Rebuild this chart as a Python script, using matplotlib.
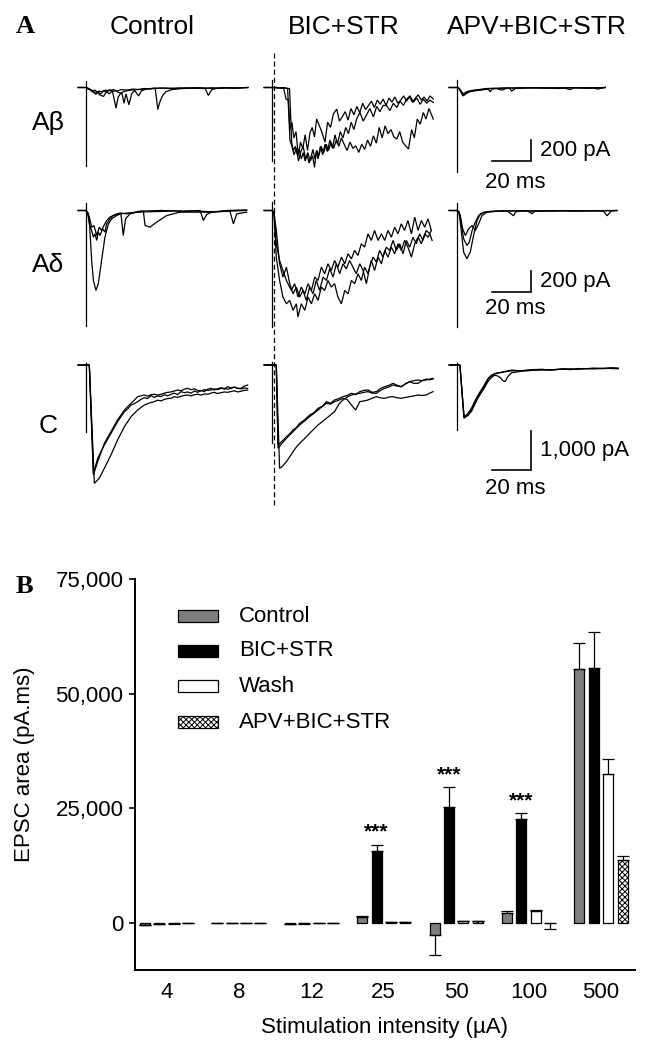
import matplotlib
matplotlib.use('Agg')
import matplotlib.pyplot as plt
import numpy as np
from matplotlib.lines import Line2D
from matplotlib.patches import Rectangle

plt.rcParams['font.family'] = ['Liberation Sans', 'DejaVu Sans']
plt.rcParams['hatch.linewidth'] = 0.7

# ---------------- Panel A data (time in ms, current in pA) ----------------
# A-beta, Control
ab_ctl_t1 = [-4, 0, 1, 2, 3.5, 5, 6.5, 8, 10, 12, 14, 16, 18, 21, 24, 27, 30, 33, 35.5, 36.8, 38, 39.5, 41, 44, 48, 52, 55, 60, 64, 68, 72, 76, 80, 83]
ab_ctl_i1 = [0, 0, -10, -15, -30, -65, -35, -40, -25, -30, -20, -35, -20, -25, -15, -20, -10, -12, -5, -210, -130, -70, -40, -20, -12, -8, -5, -10, -3, -8, -3, -6, -2, 0]
ab_ctl_t2 = [-4, 0, 1, 2.5, 4, 5.5, 7, 9, 10.5, 12, 13.5, 15.4, 16.5, 18, 20, 23, 26, 29, 33, 38, 43, 48, 53, 58, 61, 62.7, 64.5, 67, 72, 77, 83]
ab_ctl_i2 = [0, 0, -15, -25, -50, -40, -70, -85, -40, -60, -30, -195, -90, -50, -35, -25, -20, -15, -10, -5, -10, -5, -8, -3, -5, -75, -20, -8, -3, -6, 0]
ab_ctl_t3 = [-4, 0, 1, 2, 3, 4.5, 6, 7.5, 9, 10.5, 12, 13.5, 15, 17, 18.5, 19.5, 20.5, 22, 23.5, 25, 27, 28.5, 31, 35, 40, 46, 52, 58, 64, 70, 76, 83]
ab_ctl_i3 = [0, 0, -5, -20, -40, -25, -45, -60, -30, -45, -20, -40, -30, -50, -60, -150, -60, -165, -55, -30, -80, -30, -15, -10, -5, -8, -3, -5, -8, -2, -5, 0]
ab_ctl_art = [62, -745]

# A-beta, BIC+STR
ab_bic_t1 = [-4, 0, 2, 4, 6, 7.2, 8.4, 9.2, 10.2, 11.2, 12.3, 13.5, 14.6, 15.8, 17, 18.2, 19.5, 20.6, 21.8, 22.9, 24.2, 25.5, 27.2, 28.5, 30, 31.5, 33.2, 34.6, 36, 37.5, 39, 40.5, 42, 43.5, 45, 46.5, 48, 49.5, 51, 52.5, 54, 55.5, 57, 58.5, 60, 61.5, 63, 64.5, 66, 67.5, 69, 70.5, 72, 73.5, 75, 76.5, 78, 79.5, 81, 82.7]
ab_bic_i1 = [0, 0, 0, -5, -10, -111, -120, -400, -330, -480, -420, -650, -520, -580, -450, -600, -430, -380, -470, -300, -360, -420, -520, -330, -380, -250, -206, -320, -280, -230, -310, -200, -260, -180, -240, -150, -210, -170, -130, -190, -120, -160, -110, -170, -100, -140, -90, -150, -120, -80, -130, -90, -140, -100, -70, -120, -90, -130, -80, -110]
ab_bic_t2 = [-4, 0, 3, 6, 8, 9.2, 10.2, 11.3, 12.5, 13.6, 14.8, 16, 17.2, 18.4, 19.6, 20.8, 21.8, 22.8, 23.6, 24.8, 26, 27.2, 28.4, 29.7, 31, 32.3, 33.6, 35, 36.4, 37.8, 39.2, 40.6, 42, 43.4, 45.1, 46.8, 48.5, 50.2, 52, 53.7, 55.4, 57, 58.8, 60.5, 62.2, 64, 65.7, 67.4, 69.1, 70.8, 72.5, 74.2, 76, 77.6, 79.3, 81, 82.7]
ab_bic_i2 = [0, 0, -5, 0, -10, -500, -560, -640, -580, -700, -610, -560, -680, -620, -700, -650, -761, -600, -680, -560, -640, -540, -610, -500, -580, -450, -540, -420, -480, -380, -440, -330, -400, -300, -238, -320, -260, -200, -280, -180, -230, -170, -174, -220, -150, -190, -130, -170, -110, -79, -140, -100, -160, -110, -150, -120, -143]
ab_bic_t3 = [-4, 0, 3, 6, 9, 10.1, 11, 12, 13, 14, 15, 16, 17, 18, 19, 20, 21, 22, 23, 24, 25.2, 26.5, 27.8, 29, 30.3, 31.6, 33, 34.3, 35.6, 37, 38.5, 40, 41.5, 43, 44.5, 46, 47.5, 49, 50.5, 52, 53.5, 55, 56.5, 58, 59.5, 61, 62.5, 64, 65.5, 67, 68.5, 70, 71.6, 73, 74.5, 76, 77.6, 79, 80.5, 82.7]
ab_bic_i3 = [0, 0, 0, -5, -10, -523, -600, -560, -640, -590, -680, -620, -700, -640, -720, -660, -590, -680, -600, -650, -560, -620, -540, -600, -520, -580, -500, -560, -480, -540, -600, -520, -580, -555, -618, -540, -590, -500, -560, -460, -530, -380, -480, -365, -440, -400, -470, -491, -420, -520, -555, -586, -400, -480, -300, -350, -238, -300, -200, -301]
ab_bic_art = [71, -700]

# A-beta, APV+BIC+STR
ab_apv_t1 = [-4, 0, 1, 2, 3, 4, 5, 6, 8, 10, 12, 14, 16, 17, 18, 20, 24, 27, 28, 30, 35, 40, 45, 50, 55, 58, 60, 65, 70, 72, 76]
ab_apv_i1 = [0, 0, -10, -40, -80, -70, -50, -40, -35, -30, -25, -20, -15, -40, -15, -10, -5, -8, -35, -8, -5, -3, -5, -2, -5, -20, -3, -5, -2, -15, 0]
ab_apv_t2 = [-4, 0, 1, 2, 3, 5, 7, 9, 11, 13, 15, 20, 25, 30, 40, 50, 60, 70, 76]
ab_apv_i2 = [0, 0, -5, -30, -60, -40, -30, -25, -20, -15, -10, -8, -5, -4, -3, -5, -2, -3, 0]
ab_apv_t3 = [-4, 0, 1.5, 3, 4.5, 6, 8, 10, 13, 16, 20, 23, 26, 30, 38, 45, 52, 56, 62, 68, 76]
ab_apv_i3 = [0, 0, -20, -70, -60, -45, -30, -25, -20, -10, -8, -25, -5, -6, -2, -4, -10, -2, -3, -8, 0]
ab_apv_art = [70, -805]

# A-delta, Control
ad_ctl_t1 = [-4, 0, 1, 1.7, 2.9, 3.8, 5.1, 6.3, 8, 9.7, 11.5, 13.2, 15.7, 18, 20.9, 24, 28, 32, 36, 40, 45, 50, 55, 60, 65, 70, 75, 82.4]
ad_ctl_i1 = [0, 0, -30, -95, -475, -666, -761, -697, -475, -254, -127, -79, -48, -30, -25, -20, -15, -12, -10, -8, -5, -10, -5, -8, -12, -8, -5, 0]
ad_ctl_t2 = [-4, 0, 1, 1.7, 2.9, 3.8, 4.6, 5.5, 6.3, 7.2, 8.5, 9.7, 10.6, 12.3, 14.0, 16.6, 17.9, 19.1, 20.3, 22.6, 26.0, 29.4, 30.3, 32.8, 36.2, 41.4, 48.2, 63.6, 73.8, 75.6, 77.3, 82.4]
ad_ctl_i2 = [0, 0, -40, -127, -190, -254, -222, -285, -206, -238, -174, -206, -127, -79, -48, -32, -25, -238, -79, -32, -16, -6, -143, -159, -111, -48, -16, -16, -6, -127, -32, -16]
ad_ctl_t3 = [-4, 0, 1, 1.7, 2.9, 4.1, 5.5, 6.8, 8.0, 9.2, 10.6, 12.3, 14.9, 17.4, 20.9, 27.7, 37.9, 50, 58.5, 60.2, 61.9, 64.4, 72.1, 82.4]
ad_ctl_i3 = [0, 0, -20, -63, -159, -143, -238, -159, -190, -143, -95, -63, -38, -25, -32, -6, 0, -5, 0, -95, -38, -16, 0, 6]
ad_ctl_art = [72, -1100]

# A-delta, BIC+STR
ad_bic_t1 = [-4, 0, 1, 2.2, 3.9, 5.6, 7.4, 9.9, 11.6, 13.3, 15.0, 16.8, 18.5, 20.2, 21.9, 23.6, 25.3, 27.0, 28.7, 30.4, 32.1, 33.8, 35.6, 37.3, 39.0, 40.7, 42.4, 44.1, 45.8, 47.5, 49.2, 50.9, 52.6, 54.4, 56.1, 57.8, 59.5, 61.2, 62.9, 64.6, 66.3, 68.0, 69.7, 71.5, 73.2, 74.9, 76.6, 78.3, 80.0, 81.7]
ad_bic_i1 = [0, 0, -20, -317, -476, -571, -666, -761, -697, -824, -729, -793, -697, -761, -634, -666, -539, -602, -507, -571, -476, -539, -444, -507, -412, -460, -380, -428, -317, -349, -222, -285, -190, -285, -222, -285, -190, -254, -159, -222, -127, -190, -95, -222, -63, -190, -95, -159, -79, -190]
ad_bic_t2 = [-4, 0, 1, 2.2, 3.9, 5.6, 7.4, 9.1, 10.8, 12.5, 14.2, 15.9, 17.6, 19.3, 21.0, 22.7, 24.4, 26.2, 27.9, 29.6, 31.3, 33.0, 34.7, 36.4, 38.1, 39.8, 41.5, 43.2, 45.0, 46.7, 48.4, 50.1, 51.8, 53.5, 55.2, 56.9, 58.6, 60.3, 62.1, 63.8, 65.5, 67.2, 68.9, 70.6, 72.3, 74.0, 75.7, 77.4, 79.1, 80.9, 82.1]
ad_bic_i2 = [0, 0, -20, -190, -507, -634, -539, -697, -793, -729, -824, -761, -856, -729, -793, -666, -761, -634, -666, -555, -634, -507, -602, -507, -555, -476, -539, -602, -507, -571, -697, -539, -444, -491, -380, -444, -349, -380, -285, -380, -317, -412, -285, -349, -254, -317, -222, -285, -190, -222, -285]
ad_bic_t3 = [-4, 0, 1, 2.2, 3.9, 5.6, 7.4, 9.1, 10.8, 12.5, 13.3, 15.0, 16.8, 18.5, 20.2, 21.9, 23.6, 25.3, 27.0, 28.7, 30.4, 32.1, 33.8, 35.6, 37.3, 39.0, 40.7, 42.4, 44.1, 45.8, 47.5, 49.2, 50.9, 52.6, 54.4, 56.1, 57.8, 59.5, 61.2, 62.9, 64.6, 66.3, 68.0, 69.7, 71.5, 73.2, 74.9, 76.6, 78.3, 80.0, 81.7]
ad_bic_i3 = [0, 0, -20, -444, -666, -824, -888, -856, -951, -888, -1014, -888, -951, -824, -888, -793, -856, -729, -761, -666, -729, -697, -824, -888, -761, -793, -666, -697, -602, -666, -539, -602, -476, -571, -444, -507, -380, -444, -349, -412, -317, -380, -285, -349, -444, -317, -254, -317, -222, -254, -190]
ad_bic_art = [80, -1110]

# A-delta, APV+BIC+STR
ad_apv_t1 = [-4, 0, 1, 1.7, 3.4, 5.1, 6.8, 8.5, 10.3, 12.0, 14.5, 18, 22, 26, 29, 30, 32, 36, 38.5, 40, 45, 50, 55, 60, 65, 70, 75, 77, 79, 82]
ad_apv_i1 = [0, 0, -20, -111, -396, -460, -396, -238, -95, -32, -16, -10, -5, -8, -50, -15, -5, -3, -30, -5, -3, -5, -2, -5, -3, -2, -5, -50, -5, 0]
ad_apv_t2 = [-4, 0, 1, 1.7, 3.4, 5.1, 6.3, 8.0, 9.4, 11.1, 13.7, 17, 22, 30, 40, 50, 60, 70, 82]
ad_apv_i2 = [0, 0, -15, -79, -269, -333, -301, -174, -111, -48, -16, -8, -5, -3, -5, -2, -4, -2, 0]
ad_apv_t3 = [-4, 0, 1, 1.7, 2.9, 4.3, 6.0, 7.7, 9.4, 11.1, 12.8, 15.4, 20, 25, 33, 42, 52, 62, 72, 82]
ad_apv_i3 = [0, 0, -10, -48, -174, -238, -174, -143, -190, -127, -48, -16, -8, -5, -3, -6, -2, -4, -3, 0]
ad_apv_art = [70, -1109]

# C fibres, Control
c_ctl_t1 = [-4, 0, 1.7, 3.8, 6.0, 9.4, 12.8, 16.2, 19.7, 21.5, 23.1, 24.8, 26.5, 28.2, 29.9, 31.6, 33.3, 35, 36.8, 38.5, 40.2, 41.9, 43.6, 45.3, 47, 48.7, 50.4, 52.1, 53.9, 55.6, 57.3, 59, 60.7, 62.4, 64.1, 65.8, 67.5, 69.2, 70.9, 72.6, 74.3, 76, 77.8, 79.5, 81.2, 82.9]
c_ctl_i1 = [0, 0, 0, -2772, -2390, -2048, -1750, -1450, -1194, -1120, -1024, -990, -938, -880, -836, -860, -785, -830, -790, -810, -760, -790, -750, -720, -760, -682, -710, -690, -720, -665, -700, -650, -680, -620, -597, -640, -610, -580, -620, -555, -590, -560, -600, -597, -540, -512]
c_ctl_t2 = [-4, 0, 1.7, 3.8, 6.0, 9.4, 12.8, 16.2, 19.7, 21.5, 23.1, 24.8, 26.5, 28.2, 29.9, 31.6, 33.3, 35, 36.8, 38.5, 40.2, 41.9, 43.6, 45.3, 47, 48.7, 50.4, 52.1, 53.9, 55.6, 57.3, 59, 60.7, 62.4, 64.1, 65.8, 67.5, 69.2, 70.9, 72.6, 74.3, 76, 77.8, 79.5, 81.2, 82.9]
c_ctl_i2 = [0, 0, 0, -2815, -2474, -2005, -1706, -1407, -1152, -1060, -981, -900, -810, -790, -768, -800, -760, -750, -770, -750, -720, -700, -690, -665, -640, -660, -620, -597, -630, -610, -650, -665, -630, -650, -640, -610, -630, -600, -597, -620, -600, -570, -597, -610, -590, -597]
c_ctl_t3 = [-4, 0, 1.7, 4.3, 6.8, 9.4, 12.8, 16.2, 19.7, 23.1, 26.5, 29.9, 33.3, 35, 36.8, 38.5, 40.2, 41.9, 43.6, 45.3, 47, 48.7, 50.4, 52.1, 53.9, 55.6, 57.3, 59, 60.7, 62.4, 64.1, 65.8, 67.5, 69.2, 70.9, 72.6, 74.3, 76, 77.8, 79.5, 81.2, 82.9]
c_ctl_i3 = [0, 0, 0, -3028, -2900, -2645, -2303, -1920, -1578, -1322, -1152, -1024, -960, -938, -900, -920, -879, -860, -850, -810, -830, -800, -780, -768, -790, -760, -750, -770, -740, -750, -720, -700, -730, -710, -690, -700, -680, -660, -690, -670, -650, -640]
c_ctl_art = [40, -1715]

# C fibres, BIC+STR
c_bic_t1 = [-4, 0, 2.2, 3.1, 5.2, 7.4, 9.1, 10.8, 12.5, 14.2, 16.8, 19.3, 21.5, 23.6, 25.8, 27.9, 30, 32.1, 34.3, 36.4, 38.5, 40.7, 42.9, 45.0, 47.1, 49.2, 51.4, 53.5, 55.7, 57.8, 60, 62.1, 64.2, 66.3, 68.5, 70.6, 72.8, 74.9, 77, 79.1, 80.9, 82.6]
c_bic_i1 = [0, 0, 0, -2047, -1950, -1834, -1760, -1663, -1600, -1493, -1400, -1280, -1220, -1109, -1060, -938, -980, -896, -860, -810, -780, -725, -760, -682, -650, -640, -700, -682, -600, -555, -520, -469, -520, -555, -480, -427, -470, -469, -400, -358, -380, -358]
c_bic_t2 = [-4, 0, 2.2, 3.1, 5.2, 7.4, 9.1, 10.8, 12.5, 14.2, 16.8, 19.3, 21.5, 23.6, 25.8, 27.9, 30, 32.1, 34.3, 36.4, 38.5, 40.7, 42.9, 45.0, 47.1, 49.2, 51.4, 53.5, 55.7, 57.8, 60, 62.1, 64.2, 66.3, 68.5, 70.6, 72.8, 74.9, 77, 79.1, 80.9, 82.6]
c_bic_i2 = [0, 0, 0, -2133, -2000, -1877, -1790, -1706, -1620, -1535, -1430, -1322, -1240, -1152, -1060, -981, -1000, -938, -900, -853, -880, -1024, -1152, -938, -920, -896, -850, -810, -840, -853, -820, -810, -840, -853, -830, -810, -790, -768, -780, -768, -720, -682]
c_bic_t3 = [-4, 0, 2.2, 3.9, 5.2, 7.4, 9.1, 10.8, 12.5, 14.2, 16.8, 19.3, 21.5, 23.6, 25.8, 27.9, 30, 32.1, 34.3, 36.4, 38.5, 40.7, 42.9, 45.0, 47.1, 49.2, 51.4, 53.5, 55.7, 57.8, 60, 62.1, 64.2, 66.3, 68.5, 70.6, 72.8, 74.9, 77, 79.1, 80.9, 82.6]
c_bic_i3 = [0, 0, 0, -2645, -2600, -2474, -2350, -2218, -2100, -2005, -1880, -1749, -1640, -1535, -1450, -1365, -1280, -1194, -1000, -896, -820, -768, -740, -725, -700, -682, -720, -725, -650, -597, -560, -512, -540, -555, -480, -427, -400, -384, -400, -384, -360, -341]
c_bic_art = [85, -2000]

# C fibres, APV+BIC+STR
c_apv_t1 = [-4, 0, 1.5, 3.6, 5.5, 7.5, 9, 10.7, 12.3, 13.9, 15, 16.2, 17.7, 19.3, 20.8, 22.4, 25, 28, 33, 38, 43.6, 48, 54.3, 58, 62, 65, 70, 75.6, 79, 82.7]
c_apv_i1 = [0, 0, 0, -1365, -1280, -1152, -980, -810, -680, -554, -450, -341, -280, -230, -210, -196, -170, -150, -145, -130, -128, -120, -111, -100, -110, -94, -90, -85, -80, -90]
c_apv_t2 = [-4, 0, 1.5, 3.6, 5.5, 7.5, 9, 10.7, 12.3, 13.9, 15, 16.2, 17.7, 19.3, 20.8, 22.4, 25, 28, 33, 38, 43.6, 48, 54.3, 58, 62, 65, 70, 75.6, 79, 82.7]
c_apv_i2 = [0, 0, 0, -1330, -1250, -1100, -940, -780, -650, -520, -420, -330, -260, -220, -200, -190, -160, -130, -150, -120, -110, -130, -100, -120, -90, -100, -80, -95, -70, -80]
c_apv_t3 = [-4, 0, 1.5, 3.6, 5.5, 7.5, 9, 10.7, 12.3, 13.9, 15, 16.2, 17.7, 19.3, 20.8, 22.4, 23.5, 24.7, 26, 28, 33, 38, 43.6, 48, 54.3, 60, 65, 70, 75.6, 82.7]
c_apv_i3 = [0, 0, 0, -1340, -1300, -1180, -1020, -850, -720, -600, -500, -400, -320, -260, -280, -330, -400, -426, -300, -200, -160, -140, -120, -130, -100, -110, -90, -100, -85, -95]
c_apv_art = [40, -1664]

conditions = ['Control', 'BIC+STR', 'APV+BIC+STR']
fibre_rows = ['Aβ', 'Aδ', 'C']
scale_ms = 20
scale_pa = [200, 200, 1000]
scale_pa_labels = ['200 pA', '200 pA', '1,000 pA']

# ---------------- Panel B data ----------------
groups = ['4', '8', '12', '25', '50', '100', '500']
control = [-360, 50, -150, 1240, -2690, 2180, 55400]
control_sem = [150, 50, 100, 360, 4210, 365, 5670]
bic = [-150, 50, -100, 15630, 25230, 22680, 55620]
bic_sem = [100, 50, 100, 1450, 4360, 1310, 7850]
wash = [-100, 50, 0, 150, 360, 2545, 32570]
wash_sem = [50, 30, 30, 100, 150, 355, 3270]
apv = [-50, 50, 0, 220, 360, -100, 13670]
apv_sem = [50, 30, 30, 100, 140, 1200, 870]
series_names = ['Control', 'BIC+STR', 'Wash', 'APV+BIC+STR']
sig_groups = [3, 4, 5]
sig_label = '***'

# ---------------- Figure ----------------
W, H = 655, 1050
fig = plt.figure(figsize=(W / 100, H / 100), dpi=100)


def fx(px):
    return px / W


def fy(py):
    return 1 - py / H


# layout (pixels)
col_x0 = [86, 272, 457]
row_y0 = [87.5, 210.5, 365]
ms_px = 1.95
pa_per_px = [9.52, 9.52, 25.6]
LW = 0.9

traces = {
    (0, 0): ([(ab_ctl_t1, ab_ctl_i1), (ab_ctl_t2, ab_ctl_i2), (ab_ctl_t3, ab_ctl_i3)], ab_ctl_art),
    (0, 1): ([(ab_bic_t1, ab_bic_i1), (ab_bic_t2, ab_bic_i2), (ab_bic_t3, ab_bic_i3)], ab_bic_art),
    (0, 2): ([(ab_apv_t1, ab_apv_i1), (ab_apv_t2, ab_apv_i2), (ab_apv_t3, ab_apv_i3)], ab_apv_art),
    (1, 0): ([(ad_ctl_t1, ad_ctl_i1), (ad_ctl_t2, ad_ctl_i2), (ad_ctl_t3, ad_ctl_i3)], ad_ctl_art),
    (1, 1): ([(ad_bic_t1, ad_bic_i1), (ad_bic_t2, ad_bic_i2), (ad_bic_t3, ad_bic_i3)], ad_bic_art),
    (1, 2): ([(ad_apv_t1, ad_apv_i1), (ad_apv_t2, ad_apv_i2), (ad_apv_t3, ad_apv_i3)], ad_apv_art),
    (2, 0): ([(c_ctl_t1, c_ctl_i1), (c_ctl_t2, c_ctl_i2), (c_ctl_t3, c_ctl_i3)], c_ctl_art),
    (2, 1): ([(c_bic_t1, c_bic_i1), (c_bic_t2, c_bic_i2), (c_bic_t3, c_bic_i3)], c_bic_art),
    (2, 2): ([(c_apv_t1, c_apv_i1), (c_apv_t2, c_apv_i2), (c_apv_t3, c_apv_i3)], c_apv_art),
}

trace_axes = {}
for r in range(3):
    for c in range(3):
        lpx, rpx = col_x0[c] - 12, col_x0[c] + 175
        tpx, bpx = row_y0[r] - 30, row_y0[r] + 125
        ax = fig.add_axes([fx(lpx), fy(bpx), (rpx - lpx) / W, (bpx - tpx) / H])
        ax.set_xlim(-12 / ms_px, 175 / ms_px)
        ax.set_ylim(-125 * pa_per_px[r], 30 * pa_per_px[r])
        ax.axis('off')
        sweeps, art = traces[(r, c)]
        for t, i in sweeps:
            ax.plot(t, i, color='black', lw=LW, solid_joinstyle='miter')
        ax.plot([0, 0], art, color='black', lw=LW)
        trace_axes[(r, c)] = ax

# scale bars (drawn in the APV column axes)
corner_px_x = 531
corner_px_y = [161, 292, 470]
ms_label_dy = [21, 17, 18]
for r in range(3):
    ax = trace_axes[(r, 2)]
    tc = (corner_px_x - col_x0[2]) / ms_px
    ic = -(corner_px_y[r] - row_y0[r]) * pa_per_px[r]
    ax.plot([tc - scale_ms, tc, tc], [ic, ic, ic + scale_pa[r]], color='black', lw=1.2,
            clip_on=False, solid_joinstyle='miter')
    ax.text(tc + 9 / ms_px, ic + scale_pa[r] / 2, scale_pa_labels[r], ha='left', va='center',
            fontsize=16, clip_on=False)
    ax.text(tc - scale_ms - 7 / ms_px, ic - ms_label_dy[r] * pa_per_px[r], f'{scale_ms} ms',
            ha='left', va='center', fontsize=16, clip_on=False)

# dashed alignment line
fig.add_artist(Line2D([fx(274), fx(274)], [fy(53), fy(508)], color='black', lw=0.9,
                      linestyle=(0, (4, 2.5))))

# panel A titles and row labels
title_x = [152.5, 344, 537]
for c in range(3):
    fig.text(fx(title_x[c]), fy(33.5), conditions[c], ha='center', va='baseline', fontsize=19)
row_label_y = [130, 271.7, 433.3]
for r in range(3):
    fig.text(fx(48), fy(row_label_y[r]), fibre_rows[r], ha='center', va='baseline', fontsize=19)
fig.text(fx(16), fy(33.3), 'A', ha='left', va='baseline', fontsize=19, fontweight='bold',
         family='Liberation Serif')

# ---------------- Panel B ----------------
axB = fig.add_axes([fx(134.6), fy(970), (635 - 134.6) / W, (970 - 579) / H])
x = np.arange(len(groups))
bar_w = 0.138
step = 0.199
offs = [-1.5 * step, -0.5 * step, 0.5 * step, 1.5 * step]
vals_all = [control, bic, wash, apv]
sems_all = [control_sem, bic_sem, wash_sem, apv_sem]
colors = ['#7f7f7f', 'black', 'white', 'white']
hatches = [None, None, None, 'xxxxxx']
for k in range(4):
    v = np.array(vals_all[k], dtype=float)
    s = np.array(sems_all[k], dtype=float)
    axB.bar(x + offs[k], v, width=bar_w, color=colors[k], edgecolor='black', linewidth=0.9,
            hatch=hatches[k], zorder=2)
    lower = np.where(v < 0, s, 0)
    upper = np.where(v >= 0, s, 0)
    axB.errorbar(x + offs[k], v, yerr=[lower, upper], fmt='none', ecolor='black',
                 elinewidth=0.9, capsize=4.5, capthick=0.9, zorder=3)

for g in sig_groups:
    top = bic[g] + bic_sem[g]
    axB.text(x[g] + offs[1], top + 1500, sig_label, ha='center', va='baseline', fontsize=15,
             fontweight='bold')

axB.set_xlim(-0.44, 6.47)
axB.set_ylim(-10250, 75000)
axB.set_yticks([0, 25000, 50000, 75000])
axB.set_yticklabels(['0', '25,000', '50,000', '75,000'])
axB.set_xticks(x)
axB.set_xticklabels(groups)
axB.tick_params(axis='y', direction='out', length=4, width=1.2, pad=4, labelsize=16)
axB.tick_params(axis='x', length=0, pad=9, labelsize=16)
for sp in ['top', 'right']:
    axB.spines[sp].set_visible(False)
for sp in ['left', 'bottom']:
    axB.spines[sp].set_linewidth(1.4)
axB.set_ylabel('EPSC area (pA.ms)', fontsize=16, va='center')
axB.yaxis.set_label_coords((25 - 134.6) / 500.4, (970 - 764.5) / 391)
axB.set_xlabel('Stimulation intensity (µA)', fontsize=16, va='center')
axB.xaxis.set_label_coords(0.5, (970 - 1027) / 391)

# legend drawn manually
leg_y = [616, 651, 686, 722]
for k in range(4):
    yc = (970 - leg_y[k]) / 391
    axB.add_patch(Rectangle(((178 - 134.6) / 500.4, yc - 6 / 391), 39.5 / 500.4, 12 / 391,
                            transform=axB.transAxes, facecolor=colors[k], edgecolor='black',
                            linewidth=0.9, hatch=hatches[k], clip_on=False))
    axB.text((239 - 134.6) / 500.4, yc, series_names[k], transform=axB.transAxes,
             ha='left', va='center', fontsize=16)

fig.text(fx(16), fy(593), 'B', ha='left', va='baseline', fontsize=19, fontweight='bold',
         family='Liberation Serif')

fig.savefig('out.png', dpi=100)
